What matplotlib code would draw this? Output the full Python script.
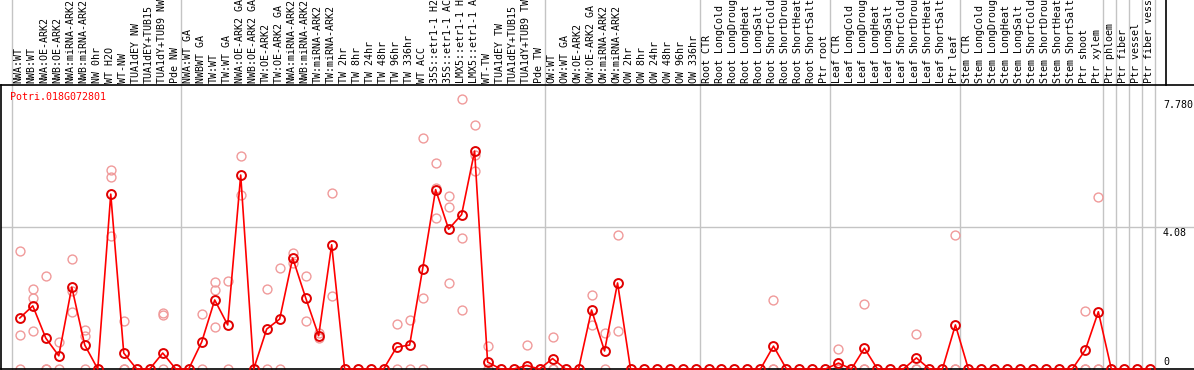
import numpy as np
import matplotlib
matplotlib.use('Agg')
import matplotlib.pyplot as plt
from matplotlib.lines import Line2D
from matplotlib.transforms import blended_transform_factory

gene = 'Potri.018G072801'

# sample labels as they show (cut off at the top of the picture)
labels = [
    'NWA:WT', 'NWB:WT', 'NWA:OE-ARK2', 'NWB:OE-ARK2', 'NWA:miRNA-ARK2', 'NWB:miRNA-ARK2',
    'NW 0hr', 'WT H2O', 'WT-NW', 'TUA1dEY NW', 'TUA1dEY+TUB15', 'TUA1dY+TUB9 NW', 'Pde NW',
    'NWA:WT GA', 'NWBWT GA', 'TW:WT', 'TW:WT GA', 'NWA:OE-ARK2 GA', 'NWB:OE-ARK2 GA',
    'TW:OE-ARK2', 'TW:OE-ARK2 GA', 'NWA:miRNA-ARK2', 'NWB:miRNA-ARK2', 'TW:miRNA-ARK2',
    'TW:miRNA-ARK2', 'TW 2hr', 'TW 8hr', 'TW 24hr', 'TW 48hr', 'TW 96hr', 'TW 336hr',
    'WT ACC', '35S::etr1-1 H2', '35S::etr1-1 AC', 'LMX5::etr1-1 H', 'LMX5::etr1-1 A',
    'WT-TW', 'TUA1dEY TW', 'TUA1dEY+TUB15', 'TUA1dY+TUB9 TW', 'Pde TW',
    'OW:WT', 'OW:WT GA', 'OW:OE-ARK2', 'OW:OE-ARK2 GA', 'OW:miRNA-ARK2', 'OW:miRNA-ARK2',
    'OW 2hr', 'OW 8hr', 'OW 24hr', 'OW 48hr', 'OW 96hr', 'OW 336hr',
    'Root CTR', 'Root LongCold', 'Root LongDroug', 'Root LongHeat', 'Root LongSalt',
    'Root ShortCold', 'Root ShortDrou', 'Root ShortHeat', 'Root ShortSalt', 'Ptr root',
    'Leaf CTR', 'Leaf LongCold', 'Leaf LongDroug', 'Leaf LongHeat', 'Leaf LongSalt',
    'Leaf ShortCold', 'Leaf ShortDrou', 'Leaf ShortHeat', 'Leaf ShortSalt', 'Ptr leaf',
    'Stem CTR', 'Stem LongCold', 'Stem LongDroug', 'Stem LongHeat', 'Stem LongSalt',
    'Stem ShortCold', 'Stem ShortDrou', 'Stem ShortHeat', 'Stem ShortSalt', 'Ptr shoot',
    'Ptr xylem', 'Ptr phloem', 'Ptr fiber', 'Ptr vessel', 'Ptr fiber vess',
]

# number of samples in each group (grey separators between groups)
group_sizes = [13, 28, 12, 10, 10, 11, 1, 1, 1, 1]

# mean expression per sample
means = [
    1.47, 1.82, 0.89, 0.38, 2.36, 0.69, 0, 5.04, 0.46, 0, 0, 0.46, 0,
    0, 0.78, 1.99, 1.27, 5.59, 0, 1.15, 1.44, 3.20, 2.05, 0.96, 3.58, 0, 0, 0, 0,
    0.63, 0.69, 2.88, 5.17, 4.03, 4.45, 6.28, 0.20, 0, 0, 0.10, 0,
    0.30, 0, 0, 1.70, 0.52, 2.48, 0, 0, 0, 0, 0, 0,
    0, 0, 0, 0, 0, 0.66, 0, 0, 0, 0,
    0.17, 0, 0.60, 0, 0, 0, 0.32, 0, 0, 1.27,
    0, 0, 0, 0, 0, 0, 0, 0, 0, 0.55, 1.65,
    0, 0, 0, 0,
]

# replicate values per sample
reps = [
    [3.40, 0.97, 0], [2.31, 2.05, 1.10], [2.69, 0, 0], [0.78, 0], [3.17, 2.26, 1.64],
    [1.13, 0.96, 0], [0, 0], [5.73, 5.52, 3.82], [1.39, 0, 0], [0], [0], [1.60, 1.57, 0], [0],
    [0], [1.58, 0], [2.50, 2.29, 1.21], [2.54, 0], [6.14, 5.01], [0], [2.31, 0], [2.91, 0],
    [3.34, 3.05], [2.69, 1.39], [1.04, 0.89], [5.07, 2.10], [0], [0], [0], [0],
    [1.30, 0], [1.42, 0], [6.66, 2.05, 0], [5.94, 5.22, 4.35], [4.99, 4.67, 2.48],
    [7.78, 3.78, 1.71], [7.03, 6.17, 5.71], [0.66, 0, 0], [0], [0], [0.69, 0], [0],
    [0.92, 0, 0], [0], [0], [2.13, 1.28], [1.04, 0], [3.86, 1.10], [0], [0], [0], [0], [0], [0],
    [0], [0], [0], [0], [0], [2.00, 0, 0], [0], [0], [0], [0],
    [0.58, 0, 0], [0], [1.87, 0, 0], [0], [0], [0], [1.01, 0, 0], [0], [0], [3.86, 0, 0],
    [0], [0], [0], [0], [0], [0], [0], [0], [0], [1.68, 0, 0], [4.96, 0, 0],
    [0], [0], [0], [0],
]

y_ticks = [0, 4.08, 7.78]
y_tick_text = ['0', '4.08', '7.780']

W, H = 1194, 370
fig = plt.figure(figsize=(W / 100, H / 100), dpi=100)
# plot region: from y=85 px (top) to y=369 px (bottom)
ax = fig.add_axes([0.5 / W, 1 / H, 1 - 0.5 / W, (369 - 85) / H])

x = np.arange(len(labels))
ax.set_xlim(-19.3 / 13, (W - 19.3) / 13)
ax.set_ylim(0, 284 / 34.7)

mono = 'DejaVu Sans Mono'
fs = 7.2

# replicates
for i, r in enumerate(reps):
    ax.plot([i] * len(r), r, linestyle='none', marker='o', ms=6.4, mfc='none',
            mec='#f09a9a', mew=1.0, zorder=2, clip_on=False)

# mean line
ax.plot(x, means, color='red', lw=1.2, marker='o', ms=6.4, mfc='none',
        mec='#e00000', mew=1.4, zorder=3, clip_on=False)

# grid / separators
ax.axhline(4.08, color='#c4c4c4', lw=1, zorder=1)
mixed = blended_transform_factory(ax.transData, fig.transFigure)
bounds = np.concatenate([[0], np.cumsum(group_sizes)]) - 0.62
for b in bounds:
    fig.add_artist(Line2D([b, b], [0, 1], transform=mixed, color='#c4c4c4', lw=1, zorder=0))

# black frame pieces
for s in ['right']:
    ax.spines[s].set_visible(False)
for s in ['left', 'top', 'bottom']:
    ax.spines[s].set_color('black')
    ax.spines[s].set_linewidth(1.2)
fig.add_artist(Line2D([1166 / W, 1166 / W], [1 - 85 / H, 1], transform=fig.transFigure,
                      color='black', lw=1.2))
ax.set_xticks([])
ax.set_yticks([])
ax.patch.set_alpha(0)

# sample labels along the top
lab_y = 1 - 83 / H
for i, lab in enumerate(labels):
    fig.text(i - 0.08, lab_y, lab, transform=mixed, rotation=90, ha='center', va='bottom',
             family=mono, fontsize=fs, color='black')

# gene name
fig.text(10 / W, 1 - 97 / H, gene, family=mono, fontsize=fs, color='red', va='center', ha='left')

# value labels at the right
ytr = blended_transform_factory(fig.transFigure, ax.transData)
for v, t in zip(y_ticks, y_tick_text):
    if v == 0:
        ax.text(1163 / W, v + 0.06, t, transform=ytr, family=mono, fontsize=fs,
                va='bottom', ha='left')
    else:
        ax.text(1163 / W, v - 0.03, t, transform=ytr, family=mono, fontsize=fs,
                va='top', ha='left')

fig.savefig('out.png', dpi=100)
